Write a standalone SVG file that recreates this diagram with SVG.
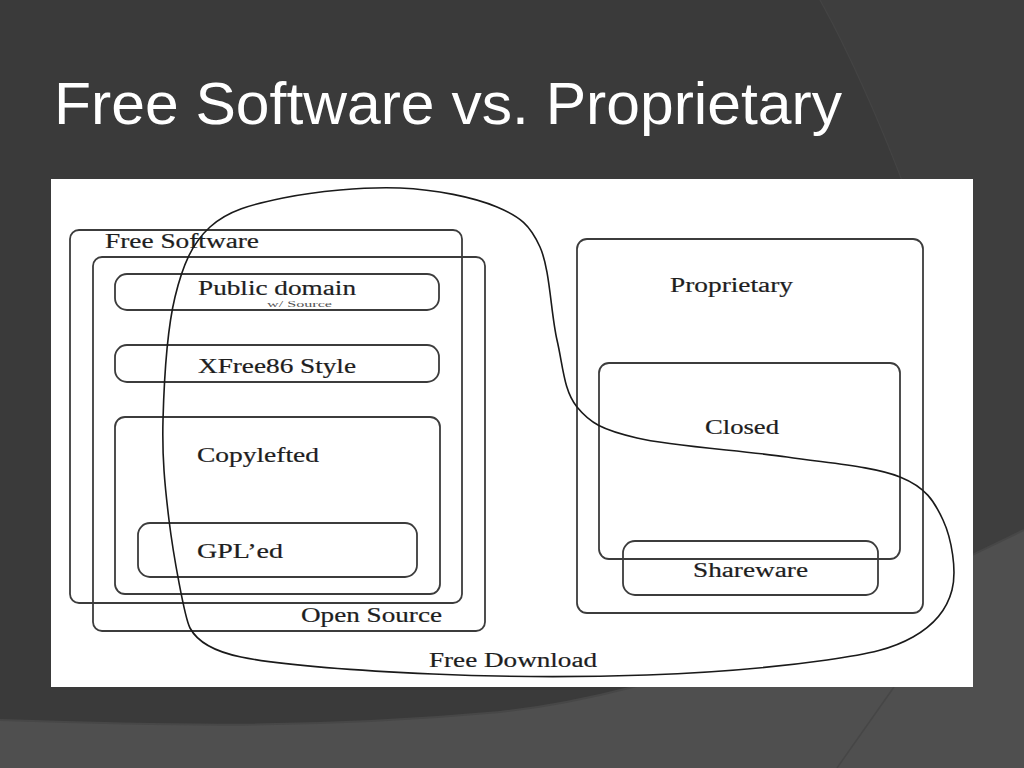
<svg xmlns="http://www.w3.org/2000/svg" width="1024" height="768" viewBox="0 0 1024 768">
  <defs>
    <style>
      .box { fill: none; stroke: #3c3c3c; stroke-width: 1.8; }
      .lbl { font-family: "Liberation Serif", "Times New Roman", serif; font-size: 20px; fill: #1e1e1e; stroke: #1e1e1e; stroke-width: 0.2; }
      .small { font-family: "Liberation Serif", "Times New Roman", serif; font-size: 9px; fill: #555; }
      .loop { fill: none; stroke: #1a1a1a; stroke-width: 1.6; }
    </style>
  </defs>
  <!-- background -->
  <rect x="0" y="0" width="1024" height="768" fill="#3a3a3a"/>
  <path d="M820,0 C870,90 960,300 960,420 C960,560 900,680 837,768 L1024,768 L1024,0 Z" fill="#3e3e3e"/>
  <path d="M820,0 C870,90 960,300 960,420 C960,560 900,680 837,768" fill="none" stroke="#444" stroke-width="1.2"/>
  <path d="M1024,530 C900,590 700,690 500,712 C300,730 150,725 0,720 L0,768 L1024,768 Z" fill="#4f4f4f"/>
  <path d="M1024,530 C900,590 700,690 500,712 C300,730 150,725 0,720" fill="none" stroke="#474747" stroke-width="2"/>
  <path d="M894,687 L837,768" stroke="#464646" stroke-width="1.5" fill="none"/>

  <!-- title -->
  <text id="title" x="54" y="124" font-family="Liberation Sans, Arial, sans-serif" font-size="60" fill="#ffffff" textLength="788" lengthAdjust="spacingAndGlyphs">Free Software vs. Proprietary</text>

  <!-- picture panel -->
  <rect x="51" y="179" width="922" height="508" fill="#ffffff"/>

  <g id="free-software">
    <rect class="box" x="70" y="230" width="392" height="373" rx="9"/>
    <text class="lbl" x="105" y="248" textLength="154" lengthAdjust="spacingAndGlyphs">Free Software</text>
  </g>
  <g id="open-source">
    <rect class="box" x="93" y="257" width="392" height="374" rx="9"/>
    <text class="lbl" x="301" y="622" textLength="141" lengthAdjust="spacingAndGlyphs">Open Source</text>
  </g>
  <g id="public-domain">
    <rect class="box" x="115" y="274" width="324" height="36" rx="12"/>
    <text class="lbl" x="198" y="295" textLength="158" lengthAdjust="spacingAndGlyphs">Public domain</text>
    <text class="small" x="267" y="307" textLength="65" lengthAdjust="spacingAndGlyphs">w/ Source</text>
  </g>
  <g id="xfree86">
    <rect class="box" x="115" y="345" width="324" height="37" rx="12"/>
    <text class="lbl" x="198" y="373" textLength="158" lengthAdjust="spacingAndGlyphs">XFree86 Style</text>
  </g>
  <g id="copylefted">
    <rect class="box" x="115" y="417" width="325" height="177" rx="10"/>
    <text class="lbl" x="197" y="462" textLength="122" lengthAdjust="spacingAndGlyphs">Copylefted</text>
  </g>
  <g id="gpled">
    <rect class="box" x="138" y="523" width="279" height="54" rx="12"/>
    <text class="lbl" x="197" y="558" textLength="86" lengthAdjust="spacingAndGlyphs">GPL’ed</text>
  </g>
  <g id="proprietary">
    <rect class="box" x="577" y="239" width="346" height="374" rx="10"/>
    <text class="lbl" x="670" y="292" textLength="123" lengthAdjust="spacingAndGlyphs">Proprietary</text>
  </g>
  <g id="closed">
    <rect class="box" x="599" y="363" width="301" height="196" rx="10"/>
    <text class="lbl" x="705" y="434" textLength="74" lengthAdjust="spacingAndGlyphs">Closed</text>
  </g>
  <g id="shareware">
    <rect class="box" x="623" y="541" width="255" height="54" rx="12"/>
    <text class="lbl" x="693" y="577" textLength="115" lengthAdjust="spacingAndGlyphs">Shareware</text>
  </g>
  <g id="free-download">
    <path class="loop" d="M400,188 C435.7,189.5 473.7,197.2 497,207 C520.3,216.8 530,224.8 540,247 C550,269.2 550.8,313.3 557,340 C563.2,366.7 563.7,390.7 577,407 C590.3,423.3 602,429.7 637,438 C672,446.3 743.2,450.5 787,457 C830.8,463.5 874,466.5 900,477 C926,487.5 934.3,501.2 943,520 C951.7,538.8 957,570.5 952,590 C947,609.5 933.8,625.3 913,637 C892.2,648.7 871.3,653.7 827,660 C782.7,666.3 712.7,672.7 647,675 C581.3,677.3 500.7,677 433,674 C365.3,671 280,665 241,657 C215,651.7 198,643 190,628 C184.7,618 173.2,554.5 169,520 C164.8,485.5 162,457.2 163,420 C164,382.8 167.2,329.2 175,297 C182.8,264.8 192,243.5 210,227 C228,210.5 251.3,204.5 283,198 C314.7,191.5 364.3,186.5 400,188 Z"/>
    <text class="lbl" x="429" y="667" textLength="168" lengthAdjust="spacingAndGlyphs">Free Download</text>
  </g>
</svg>
